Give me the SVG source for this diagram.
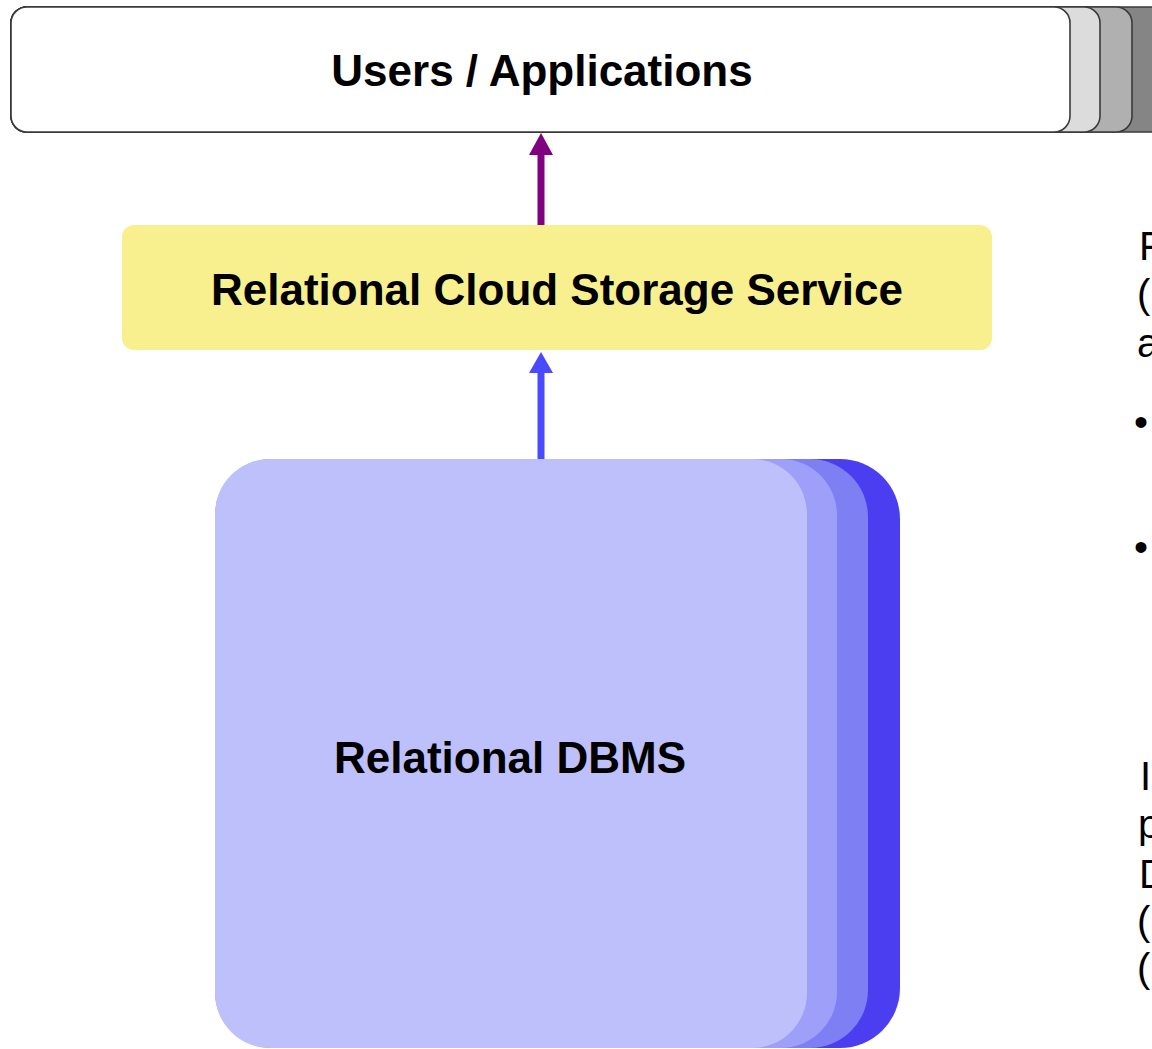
<svg xmlns="http://www.w3.org/2000/svg" width="1152" height="1049" viewBox="0 0 1152 1049">
<defs>
<style>
.lbl{font-family:"Liberation Sans",Arial,sans-serif;font-weight:bold;font-size:44px;fill:#000;text-anchor:middle}
.side{font-family:"Liberation Sans",Arial,sans-serif;font-size:40px;fill:#000}
.tab{stroke:#3a3a3a;stroke-width:1.6}
</style>
</defs>
<rect width="1152" height="1049" fill="#fff"/>
<g id="users">
<rect class="tab" x="11" y="7" width="1170" height="125" rx="16" fill="#858585"/>
<rect class="tab" x="11" y="7" width="1121" height="125" rx="16" fill="#b0b0b0"/>
<rect class="tab" x="11" y="7" width="1089" height="125" rx="16" fill="#dcdcdc"/>
<rect class="tab" x="11" y="7" width="1059" height="125" rx="16" fill="#fff"/>
<text class="lbl" x="542" y="86">Users / Applications</text>
</g>
<g id="cloud">
<rect x="122" y="225" width="870" height="125" rx="12" fill="#f8f08f"/>
<text class="lbl" x="557" y="305">Relational Cloud Storage Service</text>
</g>
<g id="dbms">
<rect x="215" y="459" width="685" height="589" rx="60" fill="#4b3ef0"/>
<rect x="215" y="459" width="653" height="589" rx="58" fill="#7d7ff3"/>
<rect x="215" y="459" width="622" height="589" rx="56" fill="#9d9ff8"/>
<rect x="215" y="459" width="592" height="589" rx="55" fill="#bdc0fb"/>
<text class="lbl" x="510" y="773">Relational DBMS</text>
</g>
<g id="connectors">
<line x1="541" y1="225" x2="541" y2="152" stroke="#800080" stroke-width="7"/>
<path d="M529,155 L541,133 L553,155 z" fill="#800080"/>
<line x1="541" y1="459" x2="541" y2="370" stroke="#4a4aff" stroke-width="7"/>
<path d="M529,373 L541,352 L553,373 z" fill="#4a4aff"/>
</g>
<g id="notes">
<text class="side" x="1139" y="260">F</text>
<text class="side" x="1137" y="308">(</text>
<text class="side" x="1137" y="357">a</text>
<text class="side" x="1134" y="436">•</text>
<text class="side" x="1134" y="561">•</text>
<text class="side" x="1140" y="790">In</text>
<text class="side" x="1138" y="838">p</text>
<text class="side" x="1139" y="888">D</text>
<text class="side" x="1137" y="935">(</text>
<text class="side" x="1137" y="982">(</text>
</g>
</svg>
